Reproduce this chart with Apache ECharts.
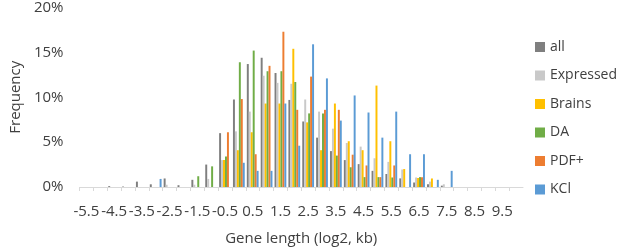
<!DOCTYPE html>
<html>
<head>
<meta charset="utf-8">
<script src="https://cdn.jsdelivr.net/npm/echarts@6/dist/echarts.min.js"></script>
<style>
  html, body { margin: 0; padding: 0; background: #fff; }
  #chart { width: 617px; height: 251px; }
</style>
</head>
<body>
<div id="chart"></div>
<script>
// bins of log2 gene length, -5.5 .. 10.0 in steps of 0.5
const categories = ['-5.5', '-5.0', '-4.5', '-4.0', '-3.5', '-3.0', '-2.5', '-2.0', '-1.5', '-1.0',
  '-0.5', '0.0', '0.5', '1.0', '1.5', '2.0', '2.5', '3.0', '3.5', '4.0', '4.5', '5.0', '5.5',
  '6.0', '6.5', '7.0', '7.5', '8.0', '8.5', '9.0', '9.5', '10.0']

// frequency in %
const allGenes = [0, 0, 0.1, 0.05, 0.6, 0.3, 0.95, 0.2, 0.8, 2.5, 6.0, 9.75, 13.7, 14.4, 12.7, 9.7,
  7.3, 5.5, 4.0, 3.0, 2.55, 1.8, 1.45, 0.96, 0.5, 0.3, 0.15, 0, 0, 0, 0, 0]
const expressed = [0, 0, 0, 0, 0, 0, 0.25, 0, 0.25, 0.9, 3.0, 6.2, 8.4, 12.4, 11.6, 11.5,
  9.75, 8.4, 6.5, 4.9, 4.5, 3.2, 2.8, 1.95, 1.06, 0.6, 0.3, 0, 0, 0, 0, 0]
const brains = [0, 0, 0, 0, 0, 0, 0, 0, 0, 0, 3.0, 4.1, 6.1, 9.3, 9.3, 15.4,
  7.2, 4.1, 9.3, 5.1, 4.1, 11.3, 5.1, 2.0, 1.0, 0.95, 0, 0, 0, 0, 0, 0]
const da = [0, 0, 0, 0, 0, 0, 0, 0, 1.2, 2.3, 3.4, 13.9, 15.2, 12.9, 12.9, 11.7,
  8.2, 8.2, 3.5, 2.2, 1.1, 1.1, 1.06, 0, 1.1, 0, 0, 0, 0, 0, 0, 0]
const pdf = [0, 0, 0, 0, 0, 0, 0, 0, 0, 0, 6.1, 9.8, 3.65, 13.5, 17.3, 8.6,
  12.3, 8.6, 8.6, 3.6, 2.4, 1.1, 2.4, 0, 1.1, 0, 0, 0, 0, 0, 0, 0]
const kcl = [0, 0, 0, 0, 0, 0.9, 0, 0, 0, 0, 0, 2.7, 1.8, 1.8, 9.3, 4.6,
  15.9, 12.1, 7.4, 10.2, 8.3, 5.5, 8.4, 3.65, 3.65, 0.8, 1.8, 0, 0, 0, 0, 0]

const yTicks = [0, 5, 10, 15, 20]

const seriesDefs = [
  { name: 'all', data: allGenes, color: '#7f7f7f' },
  { name: 'Expressed', data: expressed, color: '#c9c9c9' },
  { name: 'Brains', data: brains, color: '#ffc000' },
  { name: 'DA', data: da, color: '#70ad47' },
  { name: 'PDF+', data: pdf, color: '#ed7d31' },
  { name: 'KCl', data: kcl, color: '#5b9bd5' },
]

const font = '"Open Sans", sans-serif'
const textColor = '#404040'

const myChart = echarts.init(document.getElementById('chart'))
const option = {
  animation: false,
  textStyle: { fontFamily: font },
  grid: { left: 65, right: 94, top: 7, bottom: 56, containLabel: false },
  legend: {
    orient: 'vertical',
    left: 530,
    top: 34,
    icon: 'rect',
    itemWidth: 10,
    itemHeight: 10,
    itemGap: 12.5,
    textStyle: { fontFamily: font, fontSize: 14, color: textColor, lineHeight: 16 },
    data: seriesDefs.map(s => s.name),
  },
  xAxis: {
    type: 'category',
    data: categories,
    name: 'Gene length (log2, kb)',
    nameLocation: 'middle',
    nameGap: 44,
    nameTextStyle: { fontFamily: font, fontSize: 15, color: textColor },
    axisLine: { lineStyle: { color: '#d9d9d9', width: 1 } },
    axisTick: { show: true, interval: 0, length: 4, lineStyle: { color: '#d9d9d9' } },
    axisLabel: { interval: 1, fontSize: 15, color: textColor, margin: 17, fontFamily: font },
  },
  yAxis: {
    type: 'value',
    min: yTicks[0],
    max: yTicks[yTicks.length - 1],
    interval: 5,
    name: 'Frequency',
    nameLocation: 'middle',
    nameGap: 50,
    nameRotate: 90,
    nameTextStyle: { fontFamily: font, fontSize: 15, color: textColor },
    axisLine: { show: false },
    axisTick: { show: false },
    splitLine: { show: false },
    axisLabel: { formatter: '{value}%', fontSize: 15, color: textColor, margin: 16, fontFamily: font },
  },
  series: seriesDefs.map(s => ({
    type: 'bar',
    name: s.name,
    data: s.data,
    itemStyle: { color: s.color },
    barGap: '0%',
    barCategoryGap: '15%',
  })),
}
myChart.setOption(option)
</script>
</body>
</html>
